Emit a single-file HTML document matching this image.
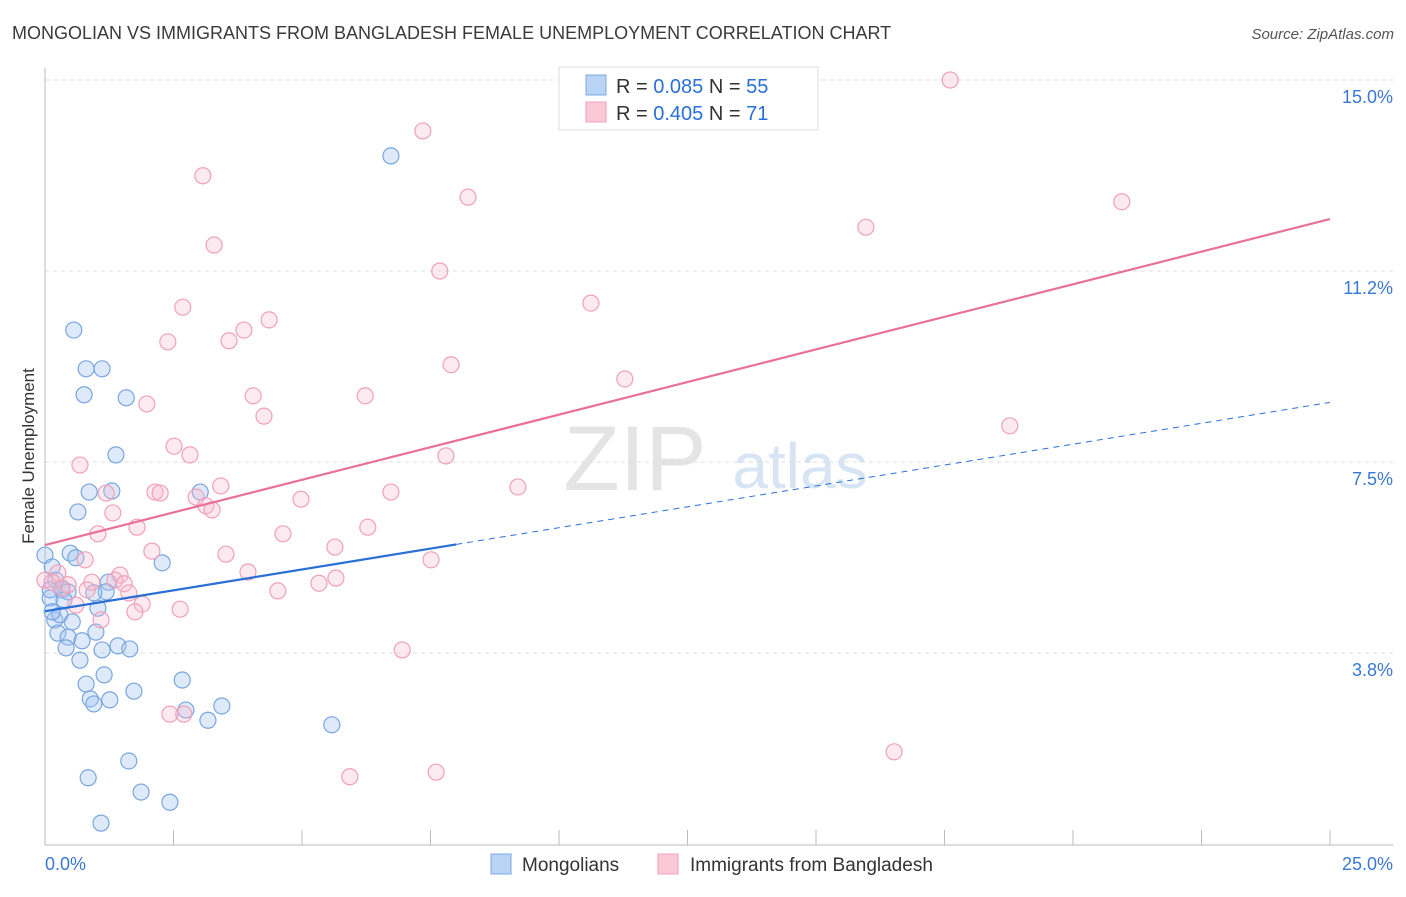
<!DOCTYPE html>
<html><head><meta charset="utf-8"><style>
body{margin:0;background:#fff;font-family:"Liberation Sans",sans-serif;}
svg text{font-family:"Liberation Sans",sans-serif;}
</style></head><body>
<svg id="chart" width="1406" height="892" viewBox="0 0 1406 892" xmlns="http://www.w3.org/2000/svg">
<text x="12" y="39" font-size="18" fill="#3a3a3a">MONGOLIAN VS IMMIGRANTS FROM BANGLADESH FEMALE UNEMPLOYMENT CORRELATION CHART</text>
<text x="1394" y="39" font-size="15" fill="#555" font-style="italic" text-anchor="end">Source: ZipAtlas.com</text>
<g>
<text x="635" y="490" font-size="92" fill="#e4e4e4" font-family="Liberation Serif" text-anchor="middle">ZIP</text>
<text x="800" y="488" font-size="64" fill="#d6e4f4" text-anchor="middle">atlas</text>
</g>
<g id="grid"></g>
<g id="axes"></g>
<g id="marks"></g>
<text transform="translate(34,456) rotate(-90)" font-size="17" fill="#333" text-anchor="middle">Female Unemployment</text>
<g>
<rect x="559" y="67" width="259" height="63" fill="#fff" stroke="#ddd"/>
<rect x="586" y="75" width="20" height="20" fill="#b9d3f5" stroke="#7aa8e0"/>
<rect x="586" y="102" width="20" height="20" fill="#fbc8d8" stroke="#f0a0b8"/>
<text x="616" y="93" font-size="20" fill="#333">R = <tspan fill="#2a6fd6">0.085</tspan>   N = <tspan fill="#2a6fd6">55</tspan></text>
<text x="616" y="120" font-size="20" fill="#333">R = <tspan fill="#2a6fd6">0.405</tspan>   N =  <tspan fill="#2a6fd6">71</tspan></text>
</g>
<g>
<rect x="491" y="854" width="20" height="20" fill="#b9d3f5" stroke="#7aa8e0"/>
<text x="522" y="871" font-size="19" fill="#333">Mongolians</text>
<rect x="658" y="854" width="20" height="20" fill="#fbc8d8" stroke="#f0a0b8"/>
<text x="690" y="871" font-size="19" fill="#333">Immigrants from Bangladesh</text>
</g>
</svg>
<script>
const yTicks=[3.75,7.5,11.25,15.0];
const yTickLabels=["3.8%","7.5%","11.2%","15.0%"];
const xTicks=[0,2.5,5,7.5,10,12.5,15,17.5,20,22.5,25];
const mongX=[0,.14,.10,.19,.33,.45,.56,.80,1.11,.76,1.58,1.38,.86,1.30,.64,.49,.60,2.28,1.23,1.19,.95,1.03,.29,.53,.25,.45,.72,.99,.41,.68,1.11,1.42,1.65,1.15,.80,2.67,1.73,.88,.95,1.26,2.74,3.44,3.17,5.58,1.63,.84,1.87,2.43,1.09,6.73,3.02,.21,.37,.14,.10];
const mongY=[5.67,5.44,4.83,4.40,4.99,4.95,10.09,9.33,9.33,8.82,8.76,7.64,6.91,6.93,6.52,5.71,5.62,5.52,5.14,4.95,4.93,4.63,4.50,4.36,4.14,4.06,3.99,4.16,3.85,3.61,3.81,3.89,3.83,3.32,3.14,3.22,3.00,2.85,2.75,2.83,2.63,2.71,2.43,2.34,1.63,1.30,1.02,.82,.41,13.51,6.91,5.18,4.79,4.56,4.99];
const bangX=[17.61,7.35,3.07,8.23,20.95,15.97,3.29,7.68,10.62,2.68,4.36,3.87,2.39,3.58,7.90,11.28,4.05,6.23,1.98,4.26,18.77,2.51,2.82,7.80,.68,9.20,3.42,2.14,2.24,6.73,1.19,2.94,4.98,3.13,3.25,1.32,1.03,1.79,6.28,4.63,5.64,2.08,3.52,.78,7.51,.25,3.95,1.46,1.36,5.66,5.33,.91,1.54,.45,0,.14,.33,.82,1.63,4.53,1.89,.60,1.75,2.63,1.09,6.95,2.43,2.70,16.52,5.93,7.61];
const bangY=[15.00,14.00,13.12,12.70,12.61,12.11,11.76,11.25,10.62,10.54,10.29,10.09,9.86,9.88,9.41,9.13,8.80,8.80,8.64,8.40,8.21,7.81,7.64,7.62,7.44,7.01,7.03,6.91,6.89,6.91,6.89,6.81,6.77,6.64,6.56,6.50,6.09,6.22,6.22,6.09,5.83,5.75,5.69,5.58,5.58,5.32,5.34,5.28,5.18,5.22,5.12,5.14,5.11,5.09,5.18,5.14,5.03,4.99,4.93,4.97,4.71,4.69,4.56,4.61,4.40,3.81,2.55,2.55,1.81,1.32,1.41];
const mongTrend=[4.57,8.67];
const bangTrend=[5.87,12.27];
const mongSolidEnd=8.0;

const NS="http://www.w3.org/2000/svg";
const X0=45,X1=1330,Y0=844,Y1=80;
const xs=v=>X0+v/25*(X1-X0);
const ys=v=>Y0-v/15*(Y0-Y1);
function mk(t,a,p){const e=document.createElementNS(NS,t);for(const k in a)e.setAttribute(k,a[k]);p.appendChild(e);return e;}
const grid=document.getElementById('grid'),axes=document.getElementById('axes'),marks=document.getElementById('marks');
yTicks.forEach((t,i)=>{
 const l=mk('line',{x1:X0,x2:1393,y1:ys(t),y2:ys(t),stroke:'#dcdcdc','stroke-dasharray':'4,4'},grid);
 
 
 const tx=mk('text',{x:1393,y:ys(t)+23,'font-size':18,fill:'#3a78d4','text-anchor':'end'},axes);
 tx.textContent=yTickLabels[i];
 
 
});
const ax=mk('line',{x1:X0,x2:X0,y1:68,y2:845,stroke:'#bbb'},axes);


const bx=mk('line',{x1:X0,x2:1393,y1:845,y2:845,stroke:'#bbb'},axes);


xTicks.forEach(t=>{
 const l=mk('line',{x1:xs(t),x2:xs(t),y1:830,y2:845,stroke:'#bbb'},axes);
 
 
});
const xl0=mk('text',{x:45,y:870,'font-size':18,fill:'#3a78d4'},axes);xl0.textContent='0.0%';


const xl1=mk('text',{x:1393,y:870,'font-size':18,fill:'#3a78d4','text-anchor':'end'},axes);xl1.textContent='25.0%';


mongX.forEach((x,i)=>{
 const c=mk('circle',{cx:xs(x),cy:ys(mongY[i]),r:8,fill:'rgba(160,196,240,0.35)',stroke:'#78a6e0','stroke-width':1.2},marks);
 
 
});
bangX.forEach((x,i)=>{
 const c=mk('circle',{cx:xs(x),cy:ys(bangY[i]),r:8,fill:'rgba(248,184,204,0.3)',stroke:'#f0a0b8','stroke-width':1.2},marks);
 
 
});
const mAt=v=>mongTrend[0]+(mongTrend[1]-mongTrend[0])*v/25;
const m1=mk('line',{x1:xs(0),y1:ys(mongTrend[0]),x2:xs(mongSolidEnd),y2:ys(mAt(mongSolidEnd)),stroke:'#2a6fd6','stroke-width':2.2},marks);


const m2=mk('line',{x1:xs(mongSolidEnd),y1:ys(mAt(mongSolidEnd)),x2:xs(25),y2:ys(mongTrend[1]),stroke:'#2a6fd6','stroke-width':1,'stroke-dasharray':'6,5'},marks);


const b1=mk('line',{x1:xs(0),y1:ys(bangTrend[0]),x2:xs(25),y2:ys(bangTrend[1]),stroke:'#e8709a','stroke-width':2.2},marks);


</script>
</body></html>
